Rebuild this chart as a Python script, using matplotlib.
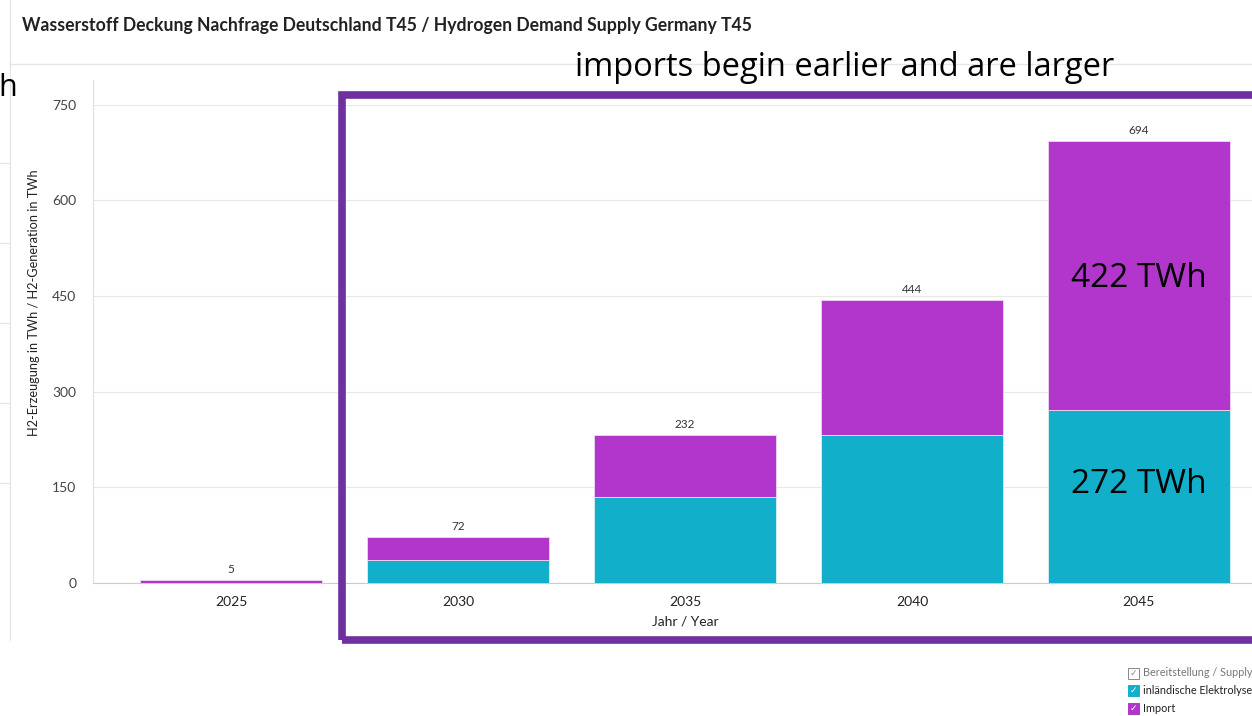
import matplotlib
matplotlib.use("Agg")
import matplotlib.pyplot as plt
from matplotlib.patches import Rectangle
from matplotlib.lines import Line2D

years = ["2025", "2030", "2035", "2040", "2045"]
elektrolyse = [0, 36, 135, 232, 272]
imports = [5, 36, 97, 212, 422]
totals = [5, 72, 232, 444, 694]
yticks = [0, 150, 300, 450, 600, 750]

C_CYAN = "#12AFCB"
C_MAG = "#B236CB"
C_FRAME = "#7030A0"

W, H = 1252, 716
fig = plt.figure(figsize=(W / 100, H / 100), dpi=100)
plt.rcParams['font.family'] = ['Lato', 'DejaVu Sans']

def fx(x):
    return x / W

def fy(y):
    return 1 - y / H

ax = fig.add_axes([fx(93), fy(583), fx(1252) - fx(93), fy(80) - fy(583)])
x = list(range(len(years)))
ax.bar(x, elektrolyse, width=0.8, color=C_CYAN, edgecolor="#d8f3f8", linewidth=0.6, zorder=3)
ax.bar(x, imports, width=0.8, bottom=elektrolyse, color=C_MAG, edgecolor="#f0d8f5", linewidth=0.6, zorder=3)
for xi, t in zip(x, totals):
    ax.annotate(str(t), (xi, t), xytext=(0, 3.5), textcoords="offset points",
                ha="center", va="bottom", fontsize=8.5, color="#333333")

ax.set_xlim(-0.608, 4.498)
ax.set_ylim(0, 789)
ax.set_yticks(yticks)
ax.set_yticklabels([str(v) for v in yticks], fontsize=10, color="#444444")
ax.set_xticks(x)
ax.set_xticklabels(years, fontsize=10, color="#222222")
ax.tick_params(axis="both", length=0, pad=9)
ax.tick_params(axis="y", pad=12)
ax.grid(axis="y", color="#e8e8e8", linewidth=0.8, zorder=0)
for s in ["top", "right"]:
    ax.spines[s].set_visible(False)
ax.spines["left"].set_color("#dddddd")
ax.spines["bottom"].set_color("#cccccc")
ax.set_xlabel("Jahr / Year", fontsize=10, color="#222222")
ax.xaxis.set_label_coords((685 - 93) / (1252 - 93), -0.065)
ax.set_ylabel("H2-Erzeugung in TWh / H2-Generation in TWh", fontsize=9.2, color="#222222")
ax.yaxis.set_label_coords(-0.046, 0.557)

# big labels in last bar
ax.text(4, 478, f"{imports[4]} TWh", ha="center", va="center",
        fontsize=24, color="black", family=["Open Sans", "DejaVu Sans"])
ax.text(4, 155, f"{elektrolyse[4]} TWh", ha="center", va="center",
        fontsize=24, color="black", family=["Open Sans", "DejaVu Sans"])

# title and frame lines
fig.text(fx(22), fy(25), "Wasserstoff Deckung Nachfrage Deutschland T45 / Hydrogen Demand Supply Germany T45",
         fontsize=12.7, fontweight="bold", color="#222222", va="center", ha="left")
fig.add_artist(Line2D([fx(10), 1], [fy(64), fy(64)], color="#e6e6e6", linewidth=1))
fig.add_artist(Line2D([fx(10), fx(10)], [fy(0), fy(640)], color="#e6e6e6", linewidth=1))
for yy in [163, 243, 323, 403, 483]:
    fig.add_artist(Line2D([0, fx(10)], [fy(yy), fy(yy)], color="#e6e6e6", linewidth=1))
fig.text(fx(-2), fy(88), "h", fontsize=22, color="black", va="center", ha="left",
         family=["Open Sans", "DejaVu Sans"])

# annotation
fig.text(fx(845), fy(68), "imports begin earlier and are larger", fontsize=23.5, color="black",
         ha="center", va="center", family=["Open Sans", "DejaVu Sans"])
fig.add_artist(Rectangle((fx(342), fy(640)), fx(1290) - fx(342), fy(95) - fy(640),
                         transform=fig.transFigure, fill=False, edgecolor=C_FRAME,
                         linewidth=5.5, clip_on=False))

# legend
leg_items = [("Bereitstellung / Supply", None, "#777777"),
             ("inländische Elektrolyse", C_CYAN, "#222222"),
             ("Import", C_MAG, "#222222")]
for i, (lab, col, tcol) in enumerate(leg_items):
    yc = 673 + i * 17.5
    bw = 11
    if col is None:
        r = Rectangle((fx(1128), fy(yc + bw / 2)), fx(bw), bw / H, transform=fig.transFigure,
                      facecolor="white", edgecolor="#888888", linewidth=0.7)
        ck = "#888888"
    else:
        r = Rectangle((fx(1128), fy(yc + bw / 2)), fx(bw), bw / H, transform=fig.transFigure,
                      facecolor=col, edgecolor=col, linewidth=0.7)
        ck = "white"
    fig.add_artist(r)
    fig.text(fx(1133.5), fy(yc), "✓", fontsize=6.5, color=ck, ha="center", va="center",
             family=["DejaVu Sans"])
    fig.text(fx(1143), fy(yc), lab, fontsize=7.8, color=tcol, ha="left", va="center")

fig.savefig("out.png", dpi=100)
